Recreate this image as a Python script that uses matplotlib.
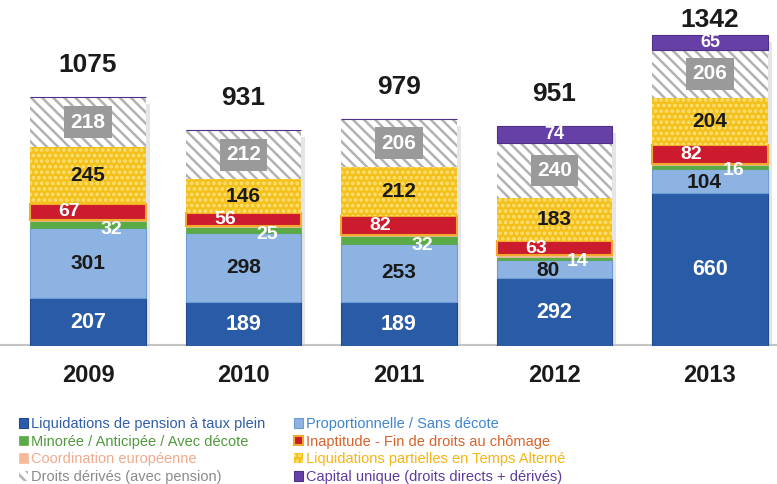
import matplotlib
matplotlib.use('Agg')
import matplotlib.pyplot as plt
import matplotlib.patheffects as pe

plt.rcParams['font.family'] = ['Liberation Sans', 'DejaVu Sans']
plt.rcParams['hatch.linewidth'] = 1.8

years = ['2009', '2010', '2011', '2012', '2013']
totals = [1075, 931, 979, 951, 1342]
taux_plein = [207, 189, 189, 292, 660]
proportionnelle = [301, 298, 253, 80, 104]
minoree = [32, 25, 32, 14, 16]
coordination = [5, 5, 5, 5, 5]
inaptitude = [67, 56, 82, 63, 82]
partielles = [245, 146, 212, 183, 204]
derives = [218, 212, 206, 240, 206]
capital = [0, 0, 0, 74, 65]

series_names = [
    'Liquidations de pension à taux plein',
    'Proportionnelle / Sans décote',
    'Minorée / Anticipée / Avec décote',
    'Coordination européenne',
    'Inaptitude - Fin de droits au chômage',
    'Liquidations partielles en Temps Alterné',
    'Droits dérivés (avec pension)',
    'Capital unique (droits directs + dérivés)',
]
series_values = [taux_plein, proportionnelle, minoree, coordination,
                 inaptitude, partielles, derives, capital]

styles = [
    dict(facecolor='#2a5ba7', edgecolor='#1f4a8c', linewidth=0.8),
    dict(facecolor='#8db3e2', edgecolor='#6c9bd6', linewidth=0.8),
    dict(facecolor='#5aaa45', edgecolor='#5aaa45', linewidth=0.5),
    dict(facecolor='#f6b99b', edgecolor='#f6b99b', linewidth=0.5),
    dict(facecolor='#cc1a2e', edgecolor='#f2a92c', linewidth=1.5),
    dict(facecolor='#f4c01a', edgecolor='#fbe07a', linewidth=0, hatch='...'),
    dict(facecolor='white', edgecolor='#b2b2b2', linewidth=0, hatch='\\\\\\'),
    dict(facecolor='#6640a6', edgecolor='#4e2f8a', linewidth=0.8),
]
text_colors = ['#2f5da8', '#3f86cf', '#4f9a3c', '#f2aa8c',
               '#d9622b', '#f6b514', '#8a8a8a', '#5d3a9e']

fig = plt.figure(figsize=(7.77, 4.84), dpi=100)
ax = fig.add_axes([0, 0.285, 1, 0.715])
ax.set_xlim(-0.566, 4.431)
ax.set_ylim(0, 1493)
ax.axis('off')

x = list(range(len(years)))
width = 0.74

# soft shadow behind whole bars
shadow = ax.bar(x, totals, width=width, color='white', zorder=1)
for p in shadow:
    p.set_path_effects([pe.SimplePatchShadow(offset=(3, -5), shadow_rgbFace='#aaaaaa', alpha=0.3),
                        pe.Normal()])

ax.axhline(0, color='#c4c4c4', lw=3, zorder=2)

handles = []
bottoms = [0] * len(years)
for vals, st, name in zip(series_values, styles, series_names):
    bars = ax.bar(x, vals, width=width, bottom=bottoms, zorder=3, label=name, **st)
    handles.append(bars)
    bottoms = [b + v for b, v in zip(bottoms, vals)]

bold = dict(fontweight='bold', ha='center', va='center')
for i in x:
    b0 = 0
    v = taux_plein[i]
    ax.text(i, b0 + v / 2, str(v), color='white', fontsize=15.5, zorder=5, **bold)
    b1 = b0 + v
    v = proportionnelle[i]
    ax.text(i - (0.04 if v < 150 else 0), b1 + v / 2 - (8 if v < 150 else 0), str(v),
            color='#1a1a1a', fontsize=15, zorder=5, **bold)
    b2 = b1 + v
    ax.text(i + 0.15, b2 - 6, str(minoree[i]), color='white', fontsize=14, zorder=6, **bold)
    b3 = b2 + minoree[i] + coordination[i]
    v = inaptitude[i]
    ax.text(i - 0.12, b3 + v / 2, str(v), color='white', fontsize=14, zorder=6, **bold)
    b4 = b3 + v
    v = partielles[i]
    ax.text(i, b4 + v / 2, str(v), color='#1a1a1a', fontsize=15, zorder=5, **bold)
    b5 = b4 + v
    v = derives[i]
    ax.text(i, b5 + v / 2, str(v), color='white', fontsize=15, zorder=5,
            bbox=dict(boxstyle='square,pad=0.3', facecolor='#9a9a9a', edgecolor='none'), **bold)
    b6 = b5 + v
    v = capital[i]
    if v:
        ax.text(i, b6 + v / 2, str(v), color='white', fontsize=13, zorder=5, **bold)
    ty = min(totals[i] + 138, 1407)
    ax.text(i, ty, str(totals[i]), color='#1a1a1a', fontsize=19, zorder=5, **bold)
    ax.text(i, -125, years[i], color='#1a1a1a', fontsize=17, zorder=5, **bold)

legfont = {'family': ['Liberation Sans Narrow', 'Liberation Sans', 'DejaVu Sans'], 'size': 10.5}
left_idx = [0, 2, 3, 6]
right_idx = [1, 4, 5, 7]
for idx, xpos in ((left_idx, 19 / 777), (right_idx, 294 / 777)):
    fig.legend([handles[k] for k in idx], [series_names[k] for k in idx],
               loc='upper left', bbox_to_anchor=(xpos, 1 - 417 / 484),
               frameon=False, prop=legfont, handlelength=0.65, handleheight=0.65,
               handletextpad=0.15, labelspacing=0.25, borderpad=0, borderaxespad=0,
               labelcolor=[text_colors[k] for k in idx])

fig.savefig('out.png', dpi=100)
